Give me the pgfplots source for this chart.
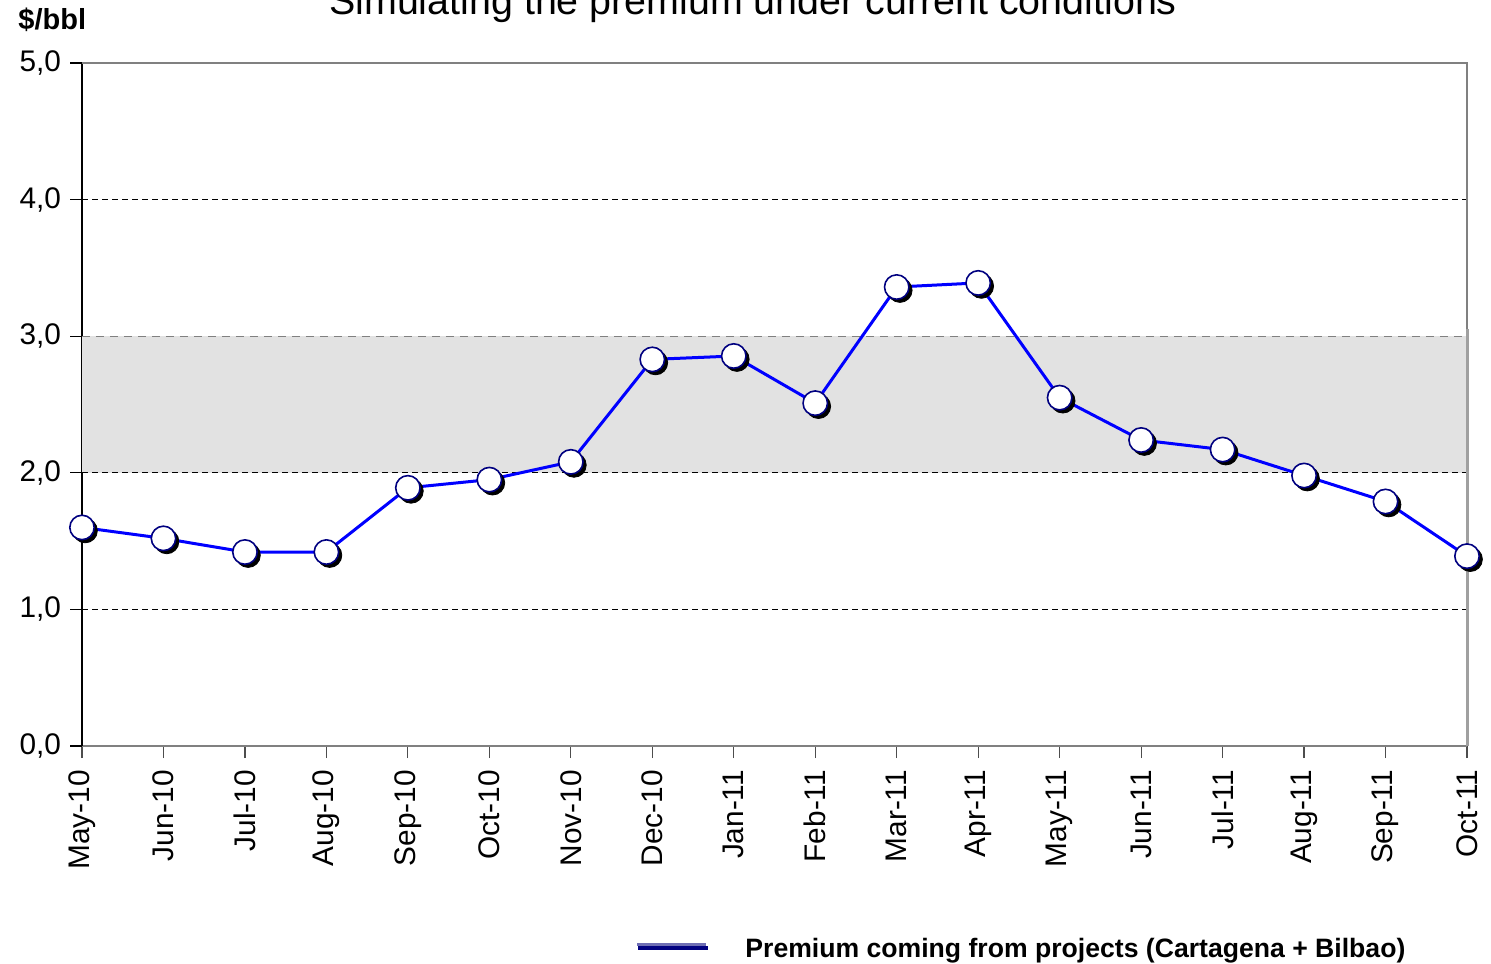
\documentclass[border=0pt]{standalone}
\usepackage{pgfplots}
\pgfplotsset{compat=1.18}
\usepackage{fontspec}
\setmainfont{Liberation Sans}
\definecolor{navy}{RGB}{0,0,128}
\definecolor{bandgray}{RGB}{226,226,226}
\definecolor{axgray}{RGB}{128,128,128}
\definecolor{ltgray}{RGB}{160,160,160}
\definecolor{legblue}{RGB}{110,110,180}
\pgfplotstableread{
x y
0 1.60
1 1.52
2 1.42
3 1.42
4 1.89
5 1.95
6 2.08
7 2.83
8 2.855
9 2.51
10 3.36
11 3.39
12 2.55
13 2.24
14 2.17
15 1.98
16 1.79
17 1.39
}\premium
\begin{document}
\begin{tikzpicture}
\useasboundingbox (0,0) rectangle (745.5pt,481.5pt);
\begin{axis}[
  at={(41pt,108.5pt)}, anchor=south west,
  width=692.5pt, height=341.5pt, scale only axis,
  xmin=0, xmax=17, ymin=0, ymax=5,
  axis x line*=bottom, axis y line*=left,
  x axis line style={axgray, line width=0.8pt, -},
  y axis line style={black, line width=0.6pt, -},
  xtick={0,...,17},
  xticklabels={May-10,Jun-10,Jul-10,Aug-10,Sep-10,Oct-10,Nov-10,Dec-10,Jan-11,Feb-11,Mar-11,Apr-11,May-11,Jun-11,Jul-11,Aug-11,Sep-11,Oct-11},
  ytick={0,1,2,3,4,5},
  tick align=outside, major tick length=6pt,
  tick style={black, line width=0.6pt},
  x tick style={axgray!60!black},
  xticklabel shift=2.5pt,
  yticklabel shift=1pt,
  xticklabel style={rotate=90, anchor=east, font=\fontsize{14.9pt}{16pt}\selectfont},
  yticklabel style={font=\fontsize{14.9pt}{16pt}\selectfont},
  /pgf/number format/.cd, fixed, fixed zerofill, precision=1, use comma, assume math mode=true,
  /pgfplots/.cd,
  clip=false,
]
% band
\addplot[fill=bandgray, draw=none] coordinates {(0,2) (17,2) (17,3) (0,3)} -- cycle;
% grid lines
\draw[black, dashed, line width=0.5pt, dash pattern=on 3pt off 2pt] (axis cs:0,1) -- (axis cs:17,1);
\draw[black, dashed, line width=0.5pt, dash pattern=on 3pt off 2pt] (axis cs:0,2) -- (axis cs:17,2);
\draw[axgray, dashed, line width=0.6pt, dash pattern=on 4pt off 3pt] (axis cs:0,3) -- (axis cs:17,3);
\draw[black, dashed, line width=0.5pt, dash pattern=on 3pt off 2pt] (axis cs:0,4) -- (axis cs:17,4);
\draw[axgray, line width=0.8pt] (axis cs:0,5) -- (axis cs:17,5) -- (axis cs:17,0);
% vertical series
\addplot[ltgray, line width=1.5pt] coordinates {(17,0) (17,3.05)};
% shadow marks
\addplot[only marks, mark=*, mark size=6.1pt, black, mark options={fill=black, draw=black, xshift=1.6pt, yshift=-1.6pt}] table[x=x,y=y] {\premium};
% line
\addplot[blue, line width=1.5pt, mark=*, mark size=6.1pt, mark options={fill=white, draw=navy, line width=0.8pt}] table[x=x,y=y] {\premium};
\end{axis}
% y unit label
\node[anchor=base west, inner sep=0pt, font=\bfseries\fontsize{14.5pt}{16pt}\selectfont] at (9pt,466.5pt) {\$/bbl};
% title
\node[anchor=base, inner sep=0pt, font=\fontsize{19.7pt}{22pt}\selectfont] at (376.5pt,474pt) {Simulating the premium under current conditions};
% legend
\draw[legblue, line width=1.5pt] (318.5pt,9.5pt) -- (353pt,9.5pt);
\draw[navy, line width=2pt] (319pt,7.5pt) -- (354pt,7.5pt);
\node[anchor=base west, inner sep=0pt, font=\bfseries\fontsize{13.3pt}{15pt}\selectfont] at (372.5pt,3pt) {Premium coming from projects (Cartagena + Bilbao)};
\end{tikzpicture}
\end{document}
